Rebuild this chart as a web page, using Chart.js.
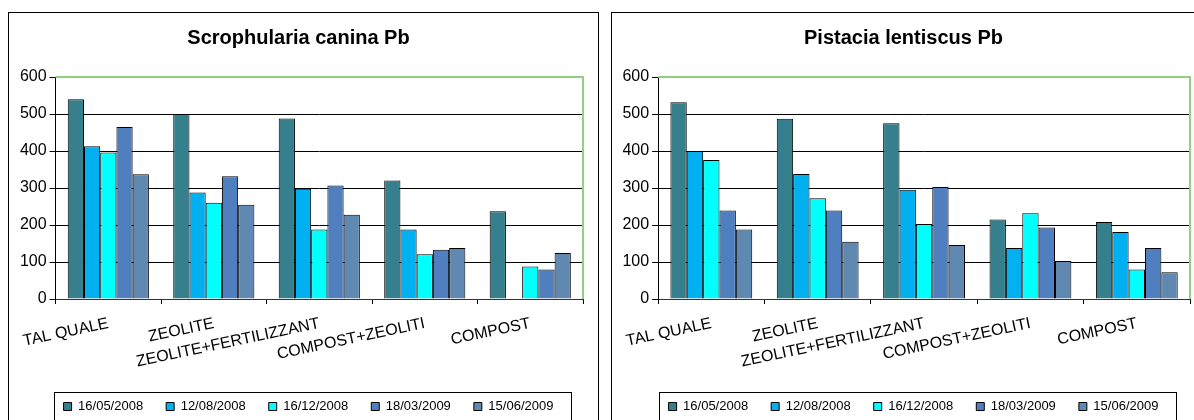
<!DOCTYPE html>
<html>
<head>
<meta charset="utf-8">
<script src="https://cdn.jsdelivr.net/npm/chart.js@4/dist/chart.umd.min.js"></script>
<style>
  html, body { margin: 0; padding: 0; background: #fff; overflow: hidden; }
  .frame { position: absolute; top: 12px; width: 591px; height: 430px; border: 1px solid #000; box-sizing: border-box; background: #fff; }
  #f1 { left: 8px; }
  #f2 { left: 611px; width: 596px; }
  canvas { display: block; }
</style>
</head>
<body>
<div class="frame" id="f1"><canvas id="c1" width="589" height="428"></canvas></div>
<div class="frame" id="f2"><canvas id="c2" width="594" height="428"></canvas></div>
<script>
// Treatments (x categories)
const categories = ["TAL QUALE", "ZEOLITE", "ZEOLITE+FERTILIZZANT", "COMPOST+ZEOLITI", "COMPOST"];
// Sampling dates (series)
const dates = ["16/05/2008", "12/08/2008", "16/12/2008", "18/03/2009", "15/06/2009"];
const seriesColors = ["#367f8c", "#00b0f0", "#00ffff", "#4f7fbe", "#6089b2"];
const yTicks = [0, 100, 200, 300, 400, 500, 600];

// Scrophularia canina – Pb
const scroph_16_05_2008 = [540, 500, 488, 320, 237];
const scroph_12_08_2008 = [413, 288, 298, 188, null];
const scroph_16_12_2008 = [396, 260, 188, 121, 88];
const scroph_18_03_2009 = [465, 332, 307, 133, 80];
const scroph_15_06_2009 = [337, 255, 228, 138, 124];

// Pistacia lentiscus – Pb
const pist_16_05_2008 = [532, 487, 475, 215, 208];
const pist_12_08_2008 = [400, 338, 295, 138, 181];
const pist_16_12_2008 = [376, 272, 203, 232, 80];
const pist_18_03_2009 = [239, 239, 303, 193, 138];
const pist_15_06_2009 = [188, 155, 146, 103, 72];

const FONT = "'Liberation Sans', Arial, sans-serif";
Chart.defaults.font.family = FONT;
Chart.defaults.color = "#000";

const LEGEND_SHIFT = 10;

// Green top/right edge of the plot area and a framed, slightly right-shifted legend
const framePlugin = {
  id: "framePlugin",
  afterLayout(chart) {
    const L = chart.legend;
    if (!L) return;
    L.left += LEGEND_SHIFT;
    L.right += LEGEND_SHIFT;
    (L.legendHitBoxes || []).forEach(b => { b.left += LEGEND_SHIFT; });
  },
  afterDraw(chart) {
    const { ctx, chartArea: a } = chart;
    ctx.save();
    ctx.strokeStyle = "#8fd17e";
    ctx.lineWidth = 2;
    ctx.beginPath();
    ctx.moveTo(a.left, a.top);
    ctx.lineTo(a.right, a.top);
    ctx.lineTo(a.right, a.bottom);
    ctx.stroke();
    const boxes = chart.legend.legendHitBoxes;
    if (boxes && boxes.length) {
      const first = boxes[0], last = boxes[boxes.length - 1];
      const x0 = Math.round(first.left - 10) + 0.5;
      const x1 = Math.round(last.left + last.width + 18) + 0.5;
      const y0 = Math.round(first.top - 8) + 0.5;
      const y1 = Math.round(first.top + first.height + 9) + 0.5;
      ctx.strokeStyle = "#000";
      ctx.lineWidth = 1;
      ctx.strokeRect(x0, y0, x1 - x0, y1 - y0);
    }
    ctx.restore();
  }
};

function makeChart(id, title, values, pad) {
  const datasets = dates.map((d, i) => ({
    label: d,
    data: values[i],
    backgroundColor: seriesColors[i],
    borderColor: "#000",
    borderWidth: 1,
    categoryPercentage: 5 / 6.5,
    barPercentage: 1
  }));
  return new Chart(document.getElementById(id), {
    type: "bar",
    data: { labels: categories, datasets },
    plugins: [framePlugin],
    options: {
      responsive: false,
      animation: false,
      layout: { padding: pad },
      plugins: {
        title: {
          display: true,
          text: title,
          color: "#000",
          font: { family: FONT, size: 20, weight: "bold" },
          padding: { top: 13, bottom: 27 }
        },
        legend: {
          position: "bottom",
          labels: {
            boxWidth: 8,
            boxHeight: 8,
            padding: 23,
            color: "#000",
            font: { family: FONT, size: 13 }
          }
        },
        tooltip: { enabled: false }
      },
      scales: {
        x: {
          offset: true,
          afterFit(axis) { axis.height = 78; },
          grid: { display: true, drawOnChartArea: false, color: "#000", tickLength: 5, offset: true },
          border: { color: "#333", width: 1 },
          ticks: {
            autoSkip: false,
            minRotation: 12,
            maxRotation: 12,
            padding: 10,
            color: "#000",
            font: { family: FONT, size: 16 }
          }
        },
        y: {
          min: 0,
          max: 600,
          afterBuildTicks(axis) { axis.ticks = yTicks.map(v => ({ value: v })); },
          grid: {
            color: ctx => (ctx.tick && ctx.tick.value === 600 ? "rgba(0,0,0,0)" : "#000"),
            tickColor: "#000",
            tickLength: 6
          },
          border: { color: "#000", width: 1 },
          ticks: { padding: 3, color: "#000", font: { family: FONT, size: 16 } }
        }
      }
    }
  });
}

makeChart("c1", "Scrophularia canina Pb",
  [scroph_16_05_2008, scroph_12_08_2008, scroph_16_12_2008, scroph_18_03_2009, scroph_15_06_2009],
  { left: 5, right: 15, top: 0, bottom: 18 });
makeChart("c2", "Pistacia lentiscus Pb",
  [pist_16_05_2008, pist_12_08_2008, pist_16_12_2008, pist_18_03_2009, pist_15_06_2009],
  { left: 5, right: 16, top: 0, bottom: 18 });
</script>
</body>
</html>
